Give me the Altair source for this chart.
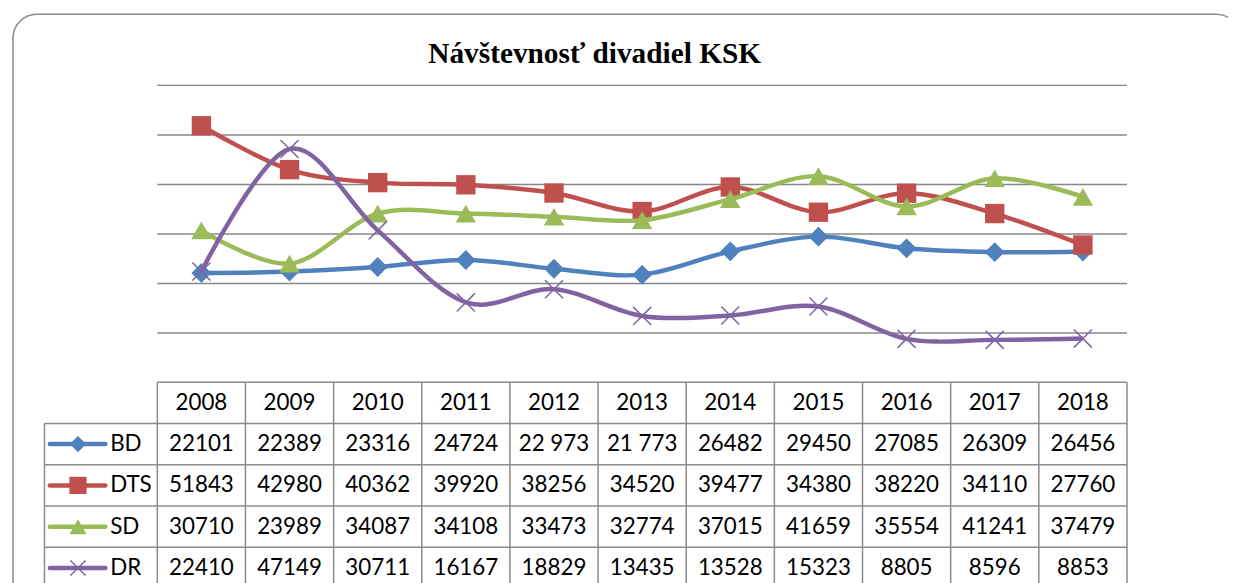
import altair as alt
import pandas as pd

# ---------------- data ----------------
YEARS = ["2008", "2009", "2010", "2011", "2012", "2013", "2014", "2015", "2016", "2017", "2018"]
SERIES = ["BD", "DTS", "SD", "DR"]
BD = [22101, 22389, 23316, 24724, 22973, 21773, 26482, 29450, 27085, 26309, 26456]
DTS = [51843, 42980, 40362, 39920, 38256, 34520, 39477, 34380, 38220, 34110, 27760]
SD = [30710, 23989, 34087, 34108, 33473, 32774, 37015, 41659, 35554, 41241, 37479]
DR = [22410, 47149, 30711, 16167, 18829, 13435, 13528, 15323, 8805, 8596, 8853]
BD_LABELS = ["22101", "22389", "23316", "24724", "22 973", "21 773", "26482", "29450", "27085", "26309", "26456"]
GRID_VALUES = [10000, 20000, 30000, 40000, 50000, 60000]
TITLE = "Návštevnosť divadiel KSK"

# ---------------- styles ----------------
COLORS = ["#4F81BD", "#C0504D", "#9BBB59", "#8064A2"]
X_PATH = "M-1,-1L1,1M-1,1L1,-1"
SHAPES = ["diamond", "square", "triangle-up", X_PATH]
FILLED = [True, True, True, False]
PLOT_SIZES = [400, 380, 420, 330]
KEY_SIZES = [270, 300, 300, 230]
GRID_COLOR = "#878787"
BORDER_COLOR = "#8C8C8C"
NUM_FONT = "Lato"
NUM_SIZE = 22.5

W, H = 1228, 575

XS = alt.Scale(domain=[-0.5, 10.5], range=[150.3, 1126.3])
YS = alt.Scale(domain=[0, 60000], range=[375, 76])
TS = alt.Scale(domain=[0, 5], range=[374.7, 582.6])

LEFT_EDGE = -1.78
KEY_X0, KEY_X1, KEY_XC, KEY_XT = -1.72, -1.09, -1.40, -1.035

values = {"BD": BD, "DTS": DTS, "SD": SD, "DR": DR}
labels = {"BD": BD_LABELS, "DTS": [str(v) for v in DTS],
          "SD": [str(v) for v in SD], "DR": [str(v) for v in DR]}

one = pd.DataFrame({"t": [TITLE]})

# frame and title
frame = alt.Chart(one).mark_rect(
    fill="transparent", stroke="#8A8A8A", strokeWidth=1.5, cornerRadius=24
).encode(x=alt.value(5), x2=alt.value(1240), y=alt.value(4.5), y2=alt.value(700))
title = alt.Chart(one).mark_text(
    font="Liberation Serif", fontSize=29.5, fontWeight="bold", color="black",
    align="center", baseline="middle"
).encode(x=alt.value(590.5), y=alt.value(44), text="t:N")

# ---------- plot part (value scale) ----------
plot_layers = []
grid_df = pd.DataFrame({"v": GRID_VALUES, "x0": [-0.5] * 6, "x1": [10.5] * 6})
plot_layers.append(alt.Chart(grid_df).mark_rule(color=GRID_COLOR, strokeWidth=1.5).encode(
    y=alt.Y("v:Q", scale=YS, axis=None),
    x=alt.X("x0:Q", scale=XS, axis=None), x2="x1:Q"))

for k, s in enumerate(SERIES):
    sd = pd.DataFrame({"i": list(range(len(YEARS))), "v": values[s]})
    line = alt.Chart(sd).mark_line(interpolate="cardinal", color=COLORS[k], strokeWidth=4.5).encode(
        x=alt.X("i:Q", scale=XS, axis=None), y=alt.Y("v:Q", scale=YS, axis=None))
    pts = alt.Chart(sd).mark_point(shape=SHAPES[k], filled=FILLED[k], color=COLORS[k],
                                   size=PLOT_SIZES[k], opacity=1,
                                   strokeWidth=0 if FILLED[k] else 1.5).encode(
        x=alt.X("i:Q", scale=XS, axis=None), y=alt.Y("v:Q", scale=YS, axis=None))
    plot_layers += [line, pts]
plot = alt.layer(*plot_layers)

# ---------- table part (row scale) ----------
table_layers = []
h_df = pd.DataFrame({"r": [0, 1, 2, 3, 4, 5],
                     "x0": [-0.5] + [LEFT_EDGE] * 5,
                     "x1": [10.5] * 6})
table_layers.append(alt.Chart(h_df).mark_rule(color=BORDER_COLOR, strokeWidth=1.5).encode(
    y=alt.Y("r:Q", scale=TS, axis=None),
    x=alt.X("x0:Q", scale=XS, axis=None), x2="x1:Q"))
v_df = pd.DataFrame({"c": [i - 0.5 for i in range(12)] + [LEFT_EDGE],
                     "r0": [0] * 12 + [1], "r1": [5] * 13})
table_layers.append(alt.Chart(v_df).mark_rule(color=BORDER_COLOR, strokeWidth=1.5).encode(
    x=alt.X("c:Q", scale=XS, axis=None),
    y=alt.Y("r0:Q", scale=TS, axis=None), y2="r1:Q"))

rows = [{"i": i, "r": 0.5, "lab": YEARS[i]} for i in range(len(YEARS))]
for k, s in enumerate(SERIES):
    for i in range(len(YEARS)):
        rows.append({"i": i, "r": k + 1.5, "lab": labels[s][i]})
table_layers.append(alt.Chart(pd.DataFrame(rows)).mark_text(
    font=NUM_FONT, fontSize=NUM_SIZE, color="black", align="center", baseline="middle").encode(
    x=alt.X("i:Q", scale=XS, axis=None), y=alt.Y("r:Q", scale=TS, axis=None), text="lab:N"))

for k, s in enumerate(SERIES):
    kd = pd.DataFrame({"r": [k + 1.5], "s": [s], "x0": [KEY_X0], "x1": [KEY_X1],
                       "xc": [KEY_XC], "xt": [KEY_XT]})
    table_layers.append(alt.Chart(kd).mark_rule(color=COLORS[k], strokeWidth=4.5, strokeCap="round").encode(
        y=alt.Y("r:Q", scale=TS, axis=None),
        x=alt.X("x0:Q", scale=XS, axis=None), x2="x1:Q"))
    table_layers.append(alt.Chart(kd).mark_point(shape=SHAPES[k], filled=FILLED[k], color=COLORS[k],
                                                 size=KEY_SIZES[k], opacity=1,
                                                 strokeWidth=0 if FILLED[k] else 1.5).encode(
        y=alt.Y("r:Q", scale=TS, axis=None), x=alt.X("xc:Q", scale=XS, axis=None)))
    table_layers.append(alt.Chart(kd).mark_text(font=NUM_FONT, fontSize=NUM_SIZE, color="black",
                                                align="left", baseline="middle").encode(
        y=alt.Y("r:Q", scale=TS, axis=None), x=alt.X("xt:Q", scale=XS, axis=None), text="s:N"))
table = alt.layer(*table_layers)

chart = alt.layer(frame, title, table, plot).resolve_scale(y="independent").properties(
    width=W, height=H, autosize=alt.AutoSizeParams(type="none"), padding=0,
    background="white"
).configure_view(strokeWidth=0)

chart.save("out.html", embed_options={"renderer": "svg", "actions": False})
